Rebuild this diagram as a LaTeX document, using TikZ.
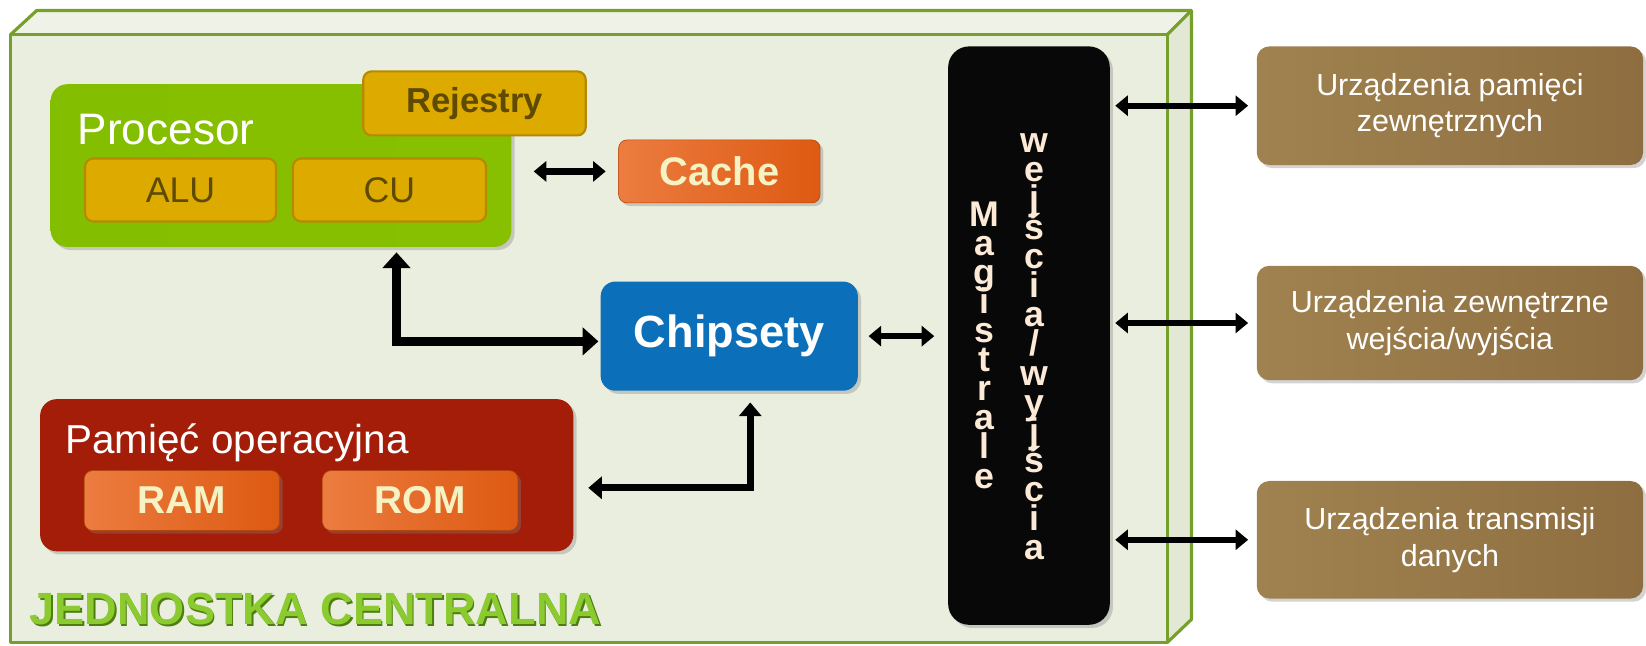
\documentclass[tikz,border=0pt]{standalone}
\usepackage{fontspec}
\setmainfont{Liberation Sans}
\usetikzlibrary{arrows.meta,shadows,calc}
\definecolor{frameG}{HTML}{76A02A}
\definecolor{frontF}{HTML}{EAEEDF}
\definecolor{topF}{HTML}{EFF2E7}
\definecolor{sideF}{HTML}{E2E8D4}
\definecolor{procL}{HTML}{84BE00}
\definecolor{procM}{HTML}{9ED80E}
\definecolor{procR}{HTML}{86C000}
\definecolor{goldF}{HTML}{DDAA00}
\definecolor{goldD}{HTML}{B58A00}
\definecolor{goldT}{HTML}{5E4A00}
\definecolor{orL}{HTML}{EC7C40}
\definecolor{orM}{HTML}{F06A1C}
\definecolor{orR}{HTML}{DD5A12}
\definecolor{chipB}{HTML}{0B6FBA}
\definecolor{memR}{HTML}{A41D08}
\definecolor{ramT}{HTML}{F6F2C4}
\definecolor{brL}{HTML}{A08250}
\definecolor{brM}{HTML}{B08E5A}
\definecolor{brR}{HTML}{8E6E40}
\definecolor{busT}{HTML}{FCE9D6}
\definecolor{jcG}{HTML}{8CCB30}
\definecolor{jcD}{HTML}{4E7E10}
\newcommand\bustightfont{\fontsize{34}{27.7}\selectfont\bfseries\lineskiplimit=-100pt\relax\lineskip=0pt\relax}
\tikzset{
  shad/.style={drop shadow={opacity=0.35,shadow xshift=3pt,shadow yshift=-3pt}},
  bigbox/.style={shad,rounded corners=16pt,inner sep=0pt,anchor=north west},
  goldbox/.style={draw=goldD,line width=2pt,fill=goldF,rounded corners=8pt,inner sep=0pt,anchor=north west,text=goldT},
  orbox/.style={shad,draw=orR!80!black,line width=0.6pt,left color=orL,middle color=orM,right color=orR,rounded corners=8pt,inner sep=0pt,anchor=north west},
  brbox/.style={shad,left color=brL,middle color=brM,right color=brR,rounded corners=12pt,inner sep=0pt,anchor=north west,minimum width=368pt,text=white,align=center,font=\fontsize{29}{35}\selectfont},
  lbl/.style={inner sep=0pt,anchor=west,text=white,font=\fontsize{42}{44}\selectfont},
  bustext/.style={inner sep=0pt,anchor=north,align=center,text=busT,font=\bustightfont},
  jcstyle/.style={inner sep=0pt,anchor=base west,font=\fontsize{43}{43}\selectfont\bfseries},
  dbl/.style={line width=6pt,black,{Triangle[width=19pt,length=12pt]}-{Triangle[width=19pt,length=12pt]}},
  dblthick/.style={line width=9pt,black,{Triangle[width=26pt,length=15pt]}-{Triangle[width=26pt,length=15pt]}},
  dblmid/.style={line width=7pt,black,{Triangle[width=21pt,length=13pt]}-{Triangle[width=21pt,length=13pt]}},
}
\begin{document}
\begin{tikzpicture}[x=1pt,y=-1pt]
\useasboundingbox (0,0) rectangle (1568,615);
% 3D frame
\fill[frontF] (10,33) rectangle (1112,612);
\fill[topF] (10,33)--(35,10)--(1135,10)--(1112,33)--cycle;
\fill[sideF] (1112,33)--(1135,10)--(1135,590)--(1112,612)--cycle;
\draw[frameG,line width=3pt,line join=round] (10,33) rectangle (1112,612);
\draw[frameG,line width=3pt,line join=round] (10,33)--(35,10)--(1135,10)--(1135,590)--(1112,612);
\draw[frameG,line width=3pt] (1112,33)--(1135,10);
% processor
\node[bigbox,left color=procL,middle color=procM,right color=procR,minimum width=439pt,minimum height=155pt] (proc) at (48,80) {};
\node[lbl] (proclbl) at (74,123) {Procesor};
\node[goldbox,minimum width=212pt,minimum height=61pt,font=\fontsize{33}{34}\selectfont\bfseries] (rej) at (345,67) {Rejestry};
\node[goldbox,minimum width=182pt,minimum height=60pt,font=\fontsize{34}{35}\selectfont] (alu) at (80,150) {ALU};
\node[goldbox,minimum width=184pt,minimum height=60pt,font=\fontsize{34}{35}\selectfont] (cu) at (278,150) {CU};
% cache
\node[orbox,minimum width=192pt,minimum height=60pt,text=ramT,font=\fontsize{38}{40}\selectfont\bfseries] (cache) at (589,133) {Cache};
% chipset
\node[bigbox,fill=chipB,rounded corners=14pt,minimum width=245pt,minimum height=104pt,text=white,font=\fontsize{43}{45}\selectfont\bfseries] (chip) at (572,268) {Chipsety};
% memory
\node[bigbox,fill=memR,minimum width=508pt,minimum height=145pt] (mem) at (38,380) {};
\node[lbl,font=\fontsize{38.5}{40}\selectfont] (memlbl) at (62,422) {Pamięć operacyjna};
\node[orbox,minimum width=186pt,minimum height=57pt,text=ramT,font=\fontsize{37}{38}\selectfont\bfseries] (ram) at (80,448) {RAM};
\node[orbox,minimum width=186pt,minimum height=57pt,text=ramT,font=\fontsize{37}{38}\selectfont\bfseries] (rom) at (307,448) {ROM};
% title
\node[jcstyle,text=jcD] (jcs) at (29.5,596.5) {JEDNOSTKA CENTRALNA};
\node[jcstyle,text=jcG] (jc) at (28,595) {JEDNOSTKA CENTRALNA};
% bus
\node[shad,fill=black!97,rounded corners=20pt,inner sep=0pt,anchor=north west,minimum width=154pt,minimum height=551pt] (bus) at (903,44) {};
\node[bustext] (mag) at (938,192) {M\\a\\g\\i\\s\\t\\r\\a\\l\\e};
\node[bustext] (wej) at (985,127) {w\\e\\j\\ś\\c\\i\\a\\/\\w\\y\\j\\ś\\c\\i\\a};
% external devices
\node[brbox,minimum height=113pt] (ext1) at (1197,44) {Urządzenia pamięci\\zewnętrznych};
\node[brbox,minimum height=109pt] (ext2) at (1197,253) {Urządzenia zewnętrzne\\wejścia/wyjścia};
\node[brbox,minimum height=112pt] (ext3) at (1197,458) {Urządzenia transmisji\\danych};
% connectors
\draw[dbl,shorten <=21pt,shorten >=12pt] (proc.east |- cache.west) -- (cache.west);
\draw[dbl,shorten <=10pt,shorten >=13pt] (chip.east) -- (bus.west |- chip.east);
\draw[dblthick] ($(proc.south)+(110,5)$) |- ($(chip.west)+(-2,5)$);
\draw[dblmid] ($(chip.south)+(20,11)$) |- ($(mem.east)+(14,12)$);
\draw[dbl,shorten <=5pt,shorten >=8pt] (bus.east |- ext1.west) -- (ext1.west);
\draw[dbl,shorten <=5pt,shorten >=8pt] (bus.east |- ext2.west) -- (ext2.west);
\draw[dbl,shorten <=5pt,shorten >=8pt] (bus.east |- ext3.west) -- (ext3.west);
\end{tikzpicture}
\end{document}
